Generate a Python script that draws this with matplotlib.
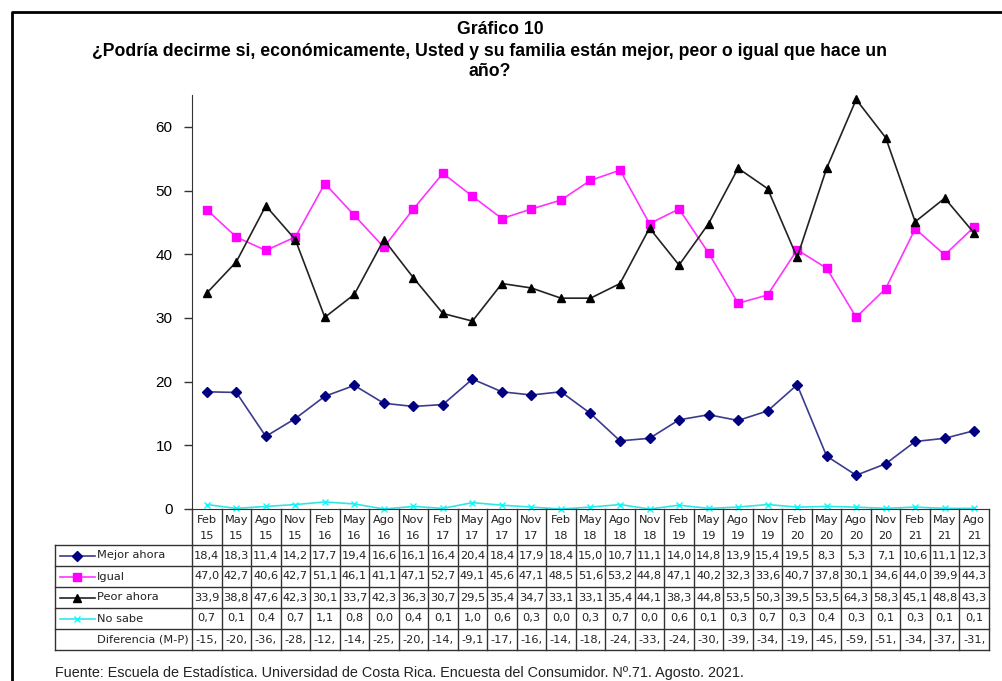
import matplotlib.pyplot as plt
import matplotlib.transforms as mtransforms
from matplotlib.lines import Line2D
import numpy as np

periodos = ['Feb\n15', 'May\n15', 'Ago\n15', 'Nov\n15', 'Feb\n16', 'May\n16', 'Ago\n16', 'Nov\n16',
            'Feb\n17', 'May\n17', 'Ago\n17', 'Nov\n17', 'Feb\n18', 'May\n18', 'Ago\n18', 'Nov\n18',
            'Feb\n19', 'May\n19', 'Ago\n19', 'Nov\n19', 'Feb\n20', 'May\n20', 'Ago\n20', 'Nov\n20',
            'Feb\n21', 'May\n21', 'Ago\n21']

mejor = [18.4, 18.3, 11.4, 14.2, 17.7, 19.4, 16.6, 16.1, 16.4, 20.4, 18.4, 17.9, 18.4,
         15.0, 10.7, 11.1, 14.0, 14.8, 13.9, 15.4, 19.5, 8.3, 5.3, 7.1, 10.6, 11.1, 12.3]
igual = [47.0, 42.7, 40.6, 42.7, 51.1, 46.1, 41.1, 47.1, 52.7, 49.1, 45.6, 47.1, 48.5,
         51.6, 53.2, 44.8, 47.1, 40.2, 32.3, 33.6, 40.7, 37.8, 30.1, 34.6, 44.0, 39.9, 44.3]
peor = [33.9, 38.8, 47.6, 42.3, 30.1, 33.7, 42.3, 36.3, 30.7, 29.5, 35.4, 34.7, 33.1,
        33.1, 35.4, 44.1, 38.3, 44.8, 53.5, 50.3, 39.5, 53.5, 64.3, 58.3, 45.1, 48.8, 43.3]
no_sabe = [0.7, 0.1, 0.4, 0.7, 1.1, 0.8, 0.0, 0.4, 0.1, 1.0, 0.6, 0.3, 0.0,
           0.3, 0.7, 0.0, 0.6, 0.1, 0.3, 0.7, 0.3, 0.4, 0.3, 0.1, 0.3, 0.1, 0.1]
diferencia = ['-15,', '-20,', '-36,', '-28,', '-12,', '-14,', '-25,', '-20,', '-14,', '-9,1',
              '-17,', '-16,', '-14,', '-18,', '-24,', '-33,', '-24,', '-30,', '-39,', '-34,',
              '-19,', '-45,', '-59,', '-51,', '-34,', '-37,', '-31,']

W, H = 1003, 681
fig = plt.figure(figsize=(W / 100, H / 100), dpi=100)

def fx(p):
    return p / W

def fy(p):
    return 1 - p / H

n = len(mejor)
x0, x1 = 192, 989
ax = fig.add_axes([fx(x0), fy(509), fx(x1 - x0), (509 - 95) / H])
x = np.arange(n)

estilos = [
    ('Mejor ahora', mejor, dict(color='#3b3b8f', marker='D', ms=5, mfc='#000080', mec='#000080')),
    ('Igual', igual, dict(color='#ff33ff', marker='s', ms=6, mfc='#ff00ff', mec='#ff00ff')),
    ('Peor ahora', peor, dict(color='#222222', marker='^', ms=6, mfc='black', mec='black')),
    ('No sabe', no_sabe, dict(color='#33e6e6', marker='x', ms=5, mfc='#00ffff', mec='#00ffff')),
]
for nombre, serie, st in estilos:
    ax.plot(x, serie, lw=1.2, clip_on=False, **st)

ax.set_xlim(-0.5, n - 0.5)
ax.set_ylim(0, 65)
ax.set_yticks(range(0, 70, 10))
ax.spines['top'].set_visible(False)
ax.spines['right'].set_visible(False)
ax.spines['left'].set_color('#333333')
ax.spines['bottom'].set_color('#333333')
ax.tick_params(axis='x', bottom=False, labelbottom=False)
ax.tick_params(axis='y', length=6, width=1, color='#333333', labelsize=11, pad=8)
for t in ax.get_yticklabels():
    t.set_family('Liberation Sans')

# tabla bajo el grafico
trans = mtransforms.blended_transform_factory(ax.transData, fig.transFigure)
rows = [509, 545, 566, 587, 608, 629, 650]
lc = '#333333'
tfont = dict(family='DejaVu Sans', fontsize=8.2, color='#222222')

for yp in rows[1:]:
    fig.add_artist(Line2D([fx(55), fx(x1)], [fy(yp), fy(yp)], color=lc, lw=1))
for i in range(n + 1):
    fig.add_artist(Line2D([i - 0.5, i - 0.5], [fy(509), fy(650)], color=lc, lw=1, transform=trans))
fig.add_artist(Line2D([fx(55), fx(55)], [fy(545), fy(650)], color=lc, lw=1))

for i, p in enumerate(periodos):
    a, b = p.split('\n')
    fig.text(i, fy(520), a, transform=trans, ha='center', va='center', **tfont)
    fig.text(i, fy(536), b, transform=trans, ha='center', va='center', **tfont)

valores = [mejor, igual, peor, no_sabe]
for r, serie in enumerate(valores):
    yc = fy((rows[r + 1] + rows[r + 2]) / 2)
    for i, v in enumerate(serie):
        fig.text(i, yc, f'{v:.1f}'.replace('.', ','), transform=trans,
                 ha='center', va='center', **tfont)
    nombre, _, st = estilos[r]
    fig.add_artist(Line2D([fx(60), fx(95)], [yc, yc], lw=1.2, color=st['color']))
    fig.add_artist(Line2D([fx(77.5)], [yc], lw=0, **st))
    fig.text(fx(97), yc, nombre, ha='left', va='center', **tfont)

yc = fy((rows[5] + rows[6]) / 2)
for i, d in enumerate(diferencia):
    fig.text(i, yc, d, transform=trans, ha='center', va='center', **tfont)
fig.text(fx(97), yc, 'Diferencia (M-P)', ha='left', va='center', **tfont)

# titulos
tit = dict(family='Liberation Sans', fontweight='bold', fontsize=12.7, ha='center', va='center')
fig.text(fx(500), fy(30), 'Gráfico 10', **tit)
fig.text(fx(490), fy(51), '¿Podría decirme si, económicamente, Usted y su familia están mejor, peor o igual que hace un', **tit)
fig.text(fx(490), fy(72), 'año?', **tit)

fig.text(fx(55), fy(673), 'Fuente: Escuela de Estadística. Universidad de Costa Rica. Encuesta del Consumidor. Nº.71. Agosto. 2021.',
         family='Liberation Sans', fontsize=10.4, ha='left', va='center', color='#222222')

# marco exterior
fig.add_artist(Line2D([fx(12), fx(12), fx(W)], [0, fy(12), fy(12)], color='black', lw=2))

fig.savefig('out.png', dpi=100)
